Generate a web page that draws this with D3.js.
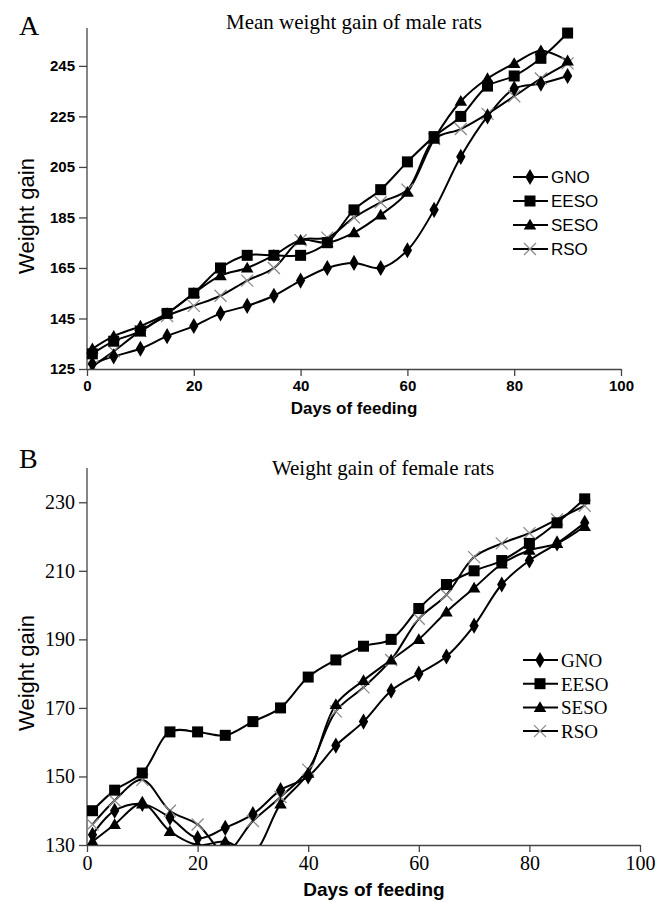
<!DOCTYPE html>
<html>
<head>
<meta charset="utf-8">
<script src="https://cdn.jsdelivr.net/npm/d3@7/dist/d3.min.js"></script>
<style>
html,body{margin:0;padding:0;background:#fff;}
svg{display:block;}
</style>
</head>
<body>
<svg id="chart" width="666" height="902"></svg>
<script>
// ---------- DATA ----------
const days = [1,5,10,15,20,25,30,35,40,45,50,55,60,65,70,75,80,85,90];
const seriesNames = ["GNO","EESO","SESO","RSO"];

// Panel A: male rats
const maleGNO  = [127,130,133,138,142,147,150,154,160,165,167,165,172,188,209,225,236,238,241];
const maleEESO = [131,136,140,147,155,165,170,170,170,175,188,196,207,217,225,237,241,248,258];
const maleSESO = [133,138,142,147,155,162,165,170,176,175,179,186,195,216,231,240,246,251,247];
const maleRSO  = [126,132,140,146,150,154,160,165,176,177,185,191,196,216,220,226,233,240,246];

// Panel B: female rats
const femGNO  = [133,140,142,138,132,135,139,146,150,159,166,175,180,185,194,206,213,218,224];
const femEESO = [140,146,151,163,163,162,166,170,179,184,188,190,199,206,210,213,218,224,231];
const femSESO = [131,136,142,134,130,131,128,142,151,171,178,184,190,198,205,212,216,218,223];
const femRSO  = [136,143,149,140,136,128,137,144,152,169,176,184,196,203,214,218,221,225,229];

const xTicks = [0,20,40,60,80,100];
const maleYTicks = [125,145,165,185,205,225,245];
const femYTicks  = [130,150,170,190,210,230];

const maleTitle = "Mean weight gain of male rats";
const femTitle  = "Weight gain of female rats";
const xTitle = "Days of feeding";
const yTitle = "Weight gain";

// ---------- DRAW ----------
const svg = d3.select("#chart");
const SANS = "Arial, 'Liberation Sans', sans-serif";
const SERIF = "'Times New Roman', 'Liberation Serif', serif";

function marker(g, type, cx, cy){
  if(type==="GNO"){
    g.append("path").attr("d", d3.symbol(d3.symbolDiamond, 75)())
      .attr("transform",`translate(${cx},${cy})`).attr("fill","#000");
  } else if(type==="EESO"){
    g.append("rect").attr("x",cx-5.5).attr("y",cy-5.5).attr("width",11).attr("height",11).attr("fill","#000");
  } else if(type==="SESO"){
    g.append("path").attr("d", d3.symbol(d3.symbolTriangle, 68)())
      .attr("transform",`translate(${cx},${cy+1})`).attr("fill","#000");
  } else {
    g.append("path").attr("d",`M${cx-6},${cy-6}L${cx+6},${cy+6}M${cx-6},${cy+6}L${cx+6},${cy-6}`)
      .attr("stroke","#8a8a8a").attr("stroke-width",1.3).attr("fill","none");
  }
}

function panel(cfg){
  const x = d3.scaleLinear().domain([0,100]).range([87, cfg.xRight]);
  const y = d3.scaleLinear().domain(cfg.yDomain).range([cfg.yBottom, cfg.yTop]);
  const g = svg.append("g");

  const clipId = "clip"+cfg.id;
  svg.append("clipPath").attr("id",clipId).append("rect")
    .attr("x",86).attr("y",cfg.yTop-10).attr("width",cfg.xRight-80).attr("height",cfg.yBottom-cfg.yTop+10);

  // axes
  const yAxis = d3.axisLeft(y).tickValues(cfg.yTicks).tickSize(8).tickPadding(4).tickSizeOuter(0);
  const ya = g.append("g").attr("transform","translate(87,0)").call(yAxis);
  ya.select(".domain").attr("d",`M0,${cfg.yBottom}V${cfg.yTop}`);
  const xAxis = d3.axisBottom(x).tickValues(xTicks).tickSize(7).tickPadding(4).tickSizeOuter(0);
  const xa = g.append("g").attr("transform",`translate(0,${cfg.yBottom})`).call(xAxis);
  [ya,xa].forEach(a=>{
    a.selectAll("path,line").attr("stroke","#444").attr("stroke-width",1.3);
    a.selectAll("text").attr("fill","#000").attr("font-family",cfg.tickFont)
      .attr("font-size",cfg.tickSize).attr("font-weight",cfg.tickWeight);
  });
  xa.selectAll("text").attr("dy", cfg.xTickDy);

  // lines
  const lineGen = d3.line().x((d,i)=>x(days[i])).y(d=>y(d)).curve(d3.curveCatmullRom.alpha(0.5));
  const plot = g.append("g").attr("clip-path",`url(#${clipId})`);
  const order = ["RSO","GNO","SESO","EESO"];
  order.forEach(name=>{
    const vals = cfg.data[name];
    plot.append("path").attr("d",lineGen(vals)).attr("fill","none")
      .attr("stroke","#000").attr("stroke-width",2);
  });
  order.forEach(name=>{
    const vals = cfg.data[name];
    vals.forEach((v,i)=>{ marker(plot,name,x(days[i]),y(v)); });
  });

  // title
  g.append("text").attr("x",cfg.titleX).attr("y",cfg.titleY).attr("text-anchor","middle")
    .attr("font-family",SERIF).attr("font-size",cfg.titleSize).text(cfg.title);
  // panel letter
  g.append("text").attr("x",19).attr("y",cfg.letterY).attr("font-family",SERIF)
    .attr("font-size",28).text(cfg.letter);
  // axis titles
  g.append("text").attr("x",cfg.xTitleX).attr("y",cfg.xTitleY).attr("text-anchor","middle")
    .attr("font-family",SANS).attr("font-size",cfg.xTitleSize).attr("font-weight","bold").text(xTitle);
  g.append("text").attr("transform",`translate(34,${cfg.yTitleY}) rotate(-90)`).attr("text-anchor","middle")
    .attr("font-family",SANS).attr("font-size",22).text(yTitle);

  // legend
  seriesNames.forEach((name,i)=>{
    const ly = cfg.legY + i*cfg.legStep;
    const lg = g.append("g");
    lg.append("line").attr("x1",cfg.legX).attr("x2",cfg.legX+35).attr("y1",ly).attr("y2",ly)
      .attr("stroke","#000").attr("stroke-width",2);
    marker(lg,name,cfg.legX+17,ly);
    lg.append("text").attr("x",cfg.legX+38).attr("y",ly).attr("dy","0.36em")
      .attr("font-family",cfg.legFont).attr("font-size",cfg.legSize).text(name);
  });
}

panel({
  id:"A", letter:"A", letterY:35, title:maleTitle, titleX:354, titleY:29, titleSize:21,
  xRight:621, yTop:28, yBottom:369, yDomain:[125,260], yTicks:maleYTicks,
  tickFont:SANS, tickSize:15, tickWeight:"bold", xTickDy:"0.75em",
  xTitleX:354, xTitleY:414, xTitleSize:17, yTitleY:216,
  data:{GNO:maleGNO,EESO:maleEESO,SESO:maleSESO,RSO:maleRSO},
  legX:513, legY:177, legStep:24, legFont:SANS, legSize:17
});

panel({
  id:"B", letter:"B", letterY:468, title:femTitle, titleX:383, titleY:475, titleSize:21,
  xRight:640, yTop:468, yBottom:845, yDomain:[130,240], yTicks:femYTicks,
  tickFont:SERIF, tickSize:20, tickWeight:"normal", xTickDy:"0.72em",
  xTitleX:374, xTitleY:896, xTitleSize:19, yTitleY:673,
  data:{GNO:femGNO,EESO:femEESO,SESO:femSESO,RSO:femRSO},
  legX:523, legY:660, legStep:23.7, legFont:SERIF, legSize:19
});
</script>
</body>
</html>
